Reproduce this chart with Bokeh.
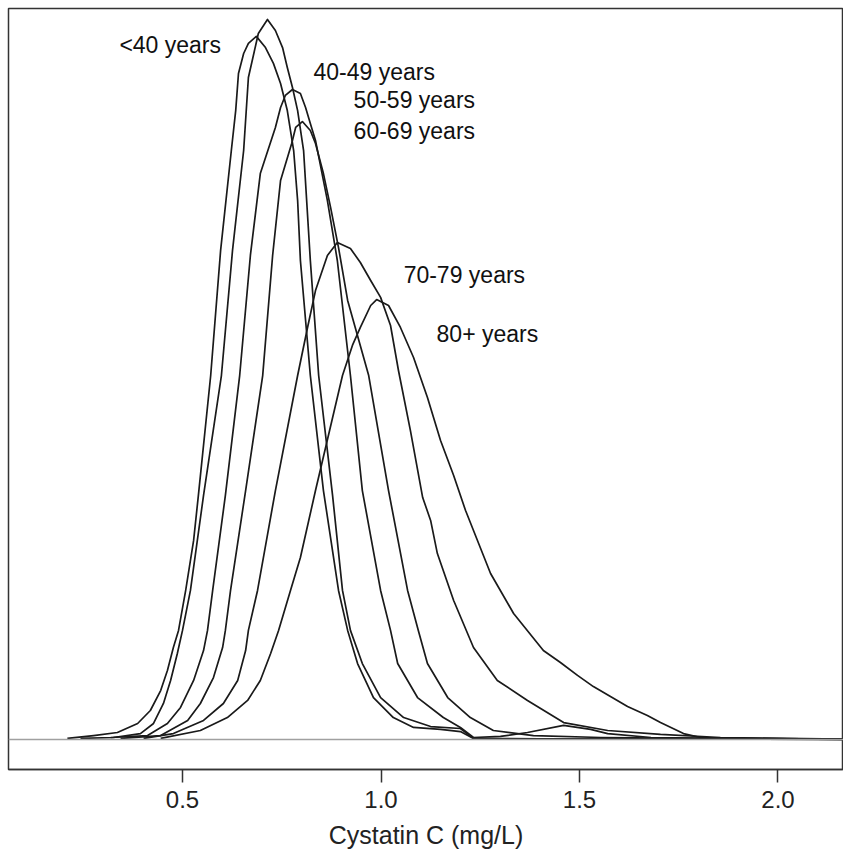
from bokeh.plotting import figure
from bokeh.models import Range1d, Span, FixedTicker, Label
from bokeh.embed import file_html
from bokeh.resources import INLINE

# ---- data (Cystatin C in mg/L, density) ----
groups = ["<40 years", "40-49 years", "50-59 years", "60-69 years", "70-79 years", "80+ years"]

x_lt40 = [0.210, 0.276, 0.336, 0.387, 0.419, 0.445, 0.462, 0.477, 0.490, 0.508, 0.528, 0.540, 0.571, 0.596,
          0.623, 0.634, 0.641, 0.654, 0.666, 0.686,
          0.709, 0.729, 0.747, 0.764, 0.780, 0.790, 0.797, 0.822, 0.855, 0.893, 0.916, 0.941, 0.981, 1.031,
          1.082, 1.150, 1.200, 1.233, 1.301, 1.553, 1.855, 2.165]
y_lt40 = [0.006, 0.022, 0.039, 0.089, 0.161, 0.272, 0.383, 0.511, 0.606, 0.828, 1.106, 1.356, 2.022, 2.717,
          3.272, 3.494, 3.700, 3.811, 3.867, 3.906,
          3.844, 3.756, 3.644, 3.494, 3.272, 2.994, 2.661, 2.022, 1.383, 0.828, 0.606, 0.422, 0.233, 0.122,
          0.067, 0.056, 0.044, 0.006, 0.003, 0.004, 0.002, 0.001]

x_40s = [0.243, 0.326, 0.394, 0.427, 0.452, 0.470, 0.487, 0.500, 0.520, 0.553, 0.598, 0.626, 0.654, 0.666,
         0.691, 0.714,
         0.734, 0.752, 0.764, 0.777, 0.790, 0.805, 0.822, 0.843, 0.878, 0.903, 0.923, 0.953, 0.999, 1.057,
         1.125, 1.200, 1.233, 1.400, 1.700, 2.165]
y_40s = [0.006, 0.011, 0.033, 0.089, 0.200, 0.328, 0.478, 0.606, 0.828, 1.356, 2.022, 2.717, 3.272, 3.678,
         3.922, 4.000,
         3.939, 3.844, 3.733, 3.622, 3.494, 3.272, 2.661, 2.022, 1.356, 0.828, 0.606, 0.422, 0.233, 0.122,
         0.072, 0.061, 0.006, 0.004, 0.003, 0.001]

x_50s = [0.319, 0.412, 0.462, 0.495, 0.528, 0.553, 0.563, 0.576, 0.608, 0.644, 0.671, 0.696, 0.734, 0.747,
         0.759, 0.777,
         0.797, 0.810, 0.822, 0.835, 0.865, 0.890, 0.923, 0.953, 0.999, 1.024, 1.042, 1.092, 1.157, 1.200,
         1.233, 1.301, 1.369, 1.460, 1.528, 1.571, 1.680, 1.855, 2.165]
y_50s = [0.011, 0.022, 0.089, 0.178, 0.328, 0.494, 0.606, 0.828, 1.356, 2.022, 2.689, 3.144, 3.400, 3.511,
         3.578, 3.611,
         3.589, 3.511, 3.422, 3.328, 2.994, 2.661, 2.022, 1.383, 0.828, 0.606, 0.422, 0.233, 0.122, 0.067,
         0.011, 0.017, 0.039, 0.078, 0.056, 0.033, 0.011, 0.006, 0.002]

x_60s = [0.344, 0.445, 0.513, 0.545, 0.578, 0.601, 0.608, 0.621, 0.659, 0.702, 0.727, 0.747, 0.775, 0.785,
         0.802,
         0.822, 0.835, 0.855, 0.873, 0.893, 0.916, 0.969, 1.019, 1.067, 1.094, 1.117, 1.168, 1.225, 1.283,
         1.384, 1.553, 1.805, 2.165]
y_60s = [0.006, 0.022, 0.106, 0.200, 0.344, 0.511, 0.606, 0.828, 1.383, 2.022, 2.689, 3.106, 3.311, 3.400,
         3.433,
         3.383, 3.311, 3.144, 2.956, 2.733, 2.439, 2.022, 1.383, 0.828, 0.606, 0.422, 0.233, 0.122, 0.050,
         0.022, 0.011, 0.006, 0.002]

x_70s = [0.402, 0.477, 0.553, 0.603, 0.639, 0.659, 0.666, 0.689, 0.734, 0.790, 0.815, 0.835, 0.865, 0.890,
         0.923, 0.948, 0.974, 0.999, 1.024, 1.044, 1.074, 1.105, 1.125, 1.142, 1.183, 1.233, 1.293, 1.369,
         1.460, 1.571, 1.704, 1.855, 2.165]
y_70s = [0.006, 0.033, 0.106, 0.200, 0.328, 0.494, 0.606, 0.828, 1.383, 2.022, 2.289, 2.494, 2.689, 2.761,
         2.728, 2.650, 2.550, 2.456, 2.300, 2.050, 1.717, 1.344, 1.217, 1.033, 0.772, 0.511, 0.328, 0.217,
         0.094, 0.050, 0.028, 0.011, 0.002]

x_80p = [0.445, 0.545, 0.613, 0.664, 0.696, 0.722, 0.742, 0.772, 0.797, 0.835, 0.903, 0.928, 0.948, 0.974,
         0.989,
         1.019, 1.049, 1.082, 1.117, 1.150, 1.183, 1.213, 1.276, 1.334, 1.409, 1.452, 1.495, 1.535, 1.578,
         1.621, 1.671, 1.704, 1.762, 1.805, 1.855, 2.165]
y_80p = [0.006, 0.050, 0.122, 0.217, 0.328, 0.478, 0.606, 0.828, 1.011, 1.383, 2.022, 2.189, 2.289, 2.411,
         2.444,
         2.411, 2.289, 2.122, 1.900, 1.661, 1.467, 1.272, 0.922, 0.700, 0.494, 0.428, 0.356, 0.294, 0.239,
         0.183, 0.133, 0.094, 0.033, 0.011, 0.006, 0.001]

series_x = [x_lt40, x_40s, x_50s, x_60s, x_70s, x_80p]
series_y = [y_lt40, y_40s, y_50s, y_60s, y_70s, y_80p]

# label anchor points (data units)
label_x = [0.341, 0.830, 0.931, 0.931, 1.057, 1.140]
label_y = [3.861, 3.706, 3.550, 3.383, 2.583, 2.250]

x_ticks = [0.5, 1.0, 1.5, 2.0]
x_title = "Cystatin C (mg/L)"

FONT = "Liberation Sans"

p = figure(frame_width=835, frame_height=761,
           x_range=Range1d(0.0617, 2.165), y_range=Range1d(-0.1667, 4.061),
           output_backend="svg", toolbar_location=None,
           y_axis_location=None, min_border_left=8, min_border_right=0,
           min_border_top=8, min_border_bottom=0)

p.xgrid.grid_line_color = None
p.ygrid.grid_line_color = None
p.outline_line_color = "#333333"
p.outline_line_width = 1.5
p.background_fill_color = "white"
p.border_fill_color = "white"

ax = p.xaxis[0]
ax.ticker = FixedTicker(ticks=x_ticks)
ax.major_label_overrides = {t: f"{t:.1f}" for t in x_ticks}
ax.minor_tick_line_color = None
ax.major_tick_in = 0
ax.major_tick_out = 13
ax.major_tick_line_color = "#333333"
ax.major_tick_line_width = 1.5
ax.axis_line_color = "#333333"
ax.axis_line_width = 1.5
ax.major_label_text_font = FONT
ax.major_label_text_font_size = "24px"
ax.major_label_text_color = "#222222"
ax.major_label_standoff = 8
ax.axis_label = x_title
ax.axis_label_text_font = FONT
ax.axis_label_text_font_size = "25px"
ax.axis_label_text_font_style = "normal"
ax.axis_label_text_color = "#222222"
ax.axis_label_standoff = 10

p.add_layout(Span(location=0, dimension="width", line_color="#a0a0a0", line_width=1.5))

for xs, ys in zip(series_x, series_y):
    p.line(xs, ys, line_color="#1a1a1a", line_width=1.7, line_join="round")

for name, lx, ly in zip(groups, label_x, label_y):
    p.add_layout(Label(x=lx, y=ly, text=name, text_font=FONT, text_font_size="23px",
                       text_color="#111111", text_baseline="middle", text_align="left"))

open("out.html", "w").write(file_html(p, INLINE))
